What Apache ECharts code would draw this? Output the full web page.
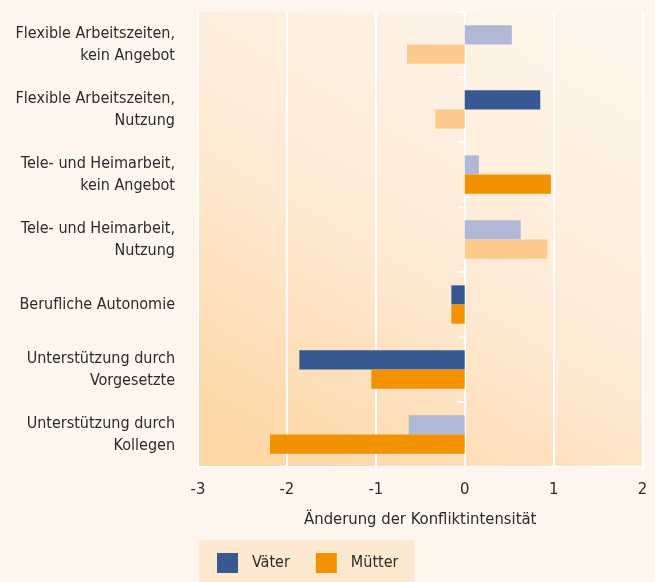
<!DOCTYPE html>
<html>
<head>
<meta charset="utf-8">
<script src="https://cdn.jsdelivr.net/npm/echarts@6/dist/echarts.min.js"></script>
<style>
html,body{margin:0;padding:0;background:#fef5ec;}
#c{width:655px;height:582px;}
</style>
</head>
<body>
<div id="c"></div>
<script>
const categories = [
  'Flexible Arbeitszeiten,\nkein Angebot',
  'Flexible Arbeitszeiten,\nNutzung',
  'Tele- und Heimarbeit,\nkein Angebot',
  'Tele- und Heimarbeit,\nNutzung',
  'Berufliche Autonomie',
  'Unterstützung durch\nVorgesetzte',
  'Unterstützung durch\nKollegen'
];
const vaeter = [0.53, 0.85, 0.16, 0.63, -0.15, -1.86, -0.63];
const muetter = [-0.65, -0.33, 0.97, 0.93, -0.15, -1.05, -2.19];
const vaeterSignificant = [false, true, false, false, true, true, false];
const muetterSignificant = [false, false, true, false, true, true, true];
const xTicks = [-3, -2, -1, 0, 1, 2];

const FONT = '"Liberation Sans Narrow", "DejaVu Sans Condensed", Roboto, sans-serif';
const C = {
  vDark: '#375891', vLight: '#b0b8d6',
  mDark: '#f29200', mLight: '#fbcb8e'
};

const chart = echarts.init(document.getElementById('c'), null, {renderer: 'canvas'});
const mk = (vals, sig, dark, light) => vals.map((v, i) => ({
  value: v, itemStyle: {color: sig[i] ? dark : light}
}));

chart.setOption({
  backgroundColor: '#fef5ec',
  textStyle: {fontFamily: FONT},
  grid: {
    left: 198, right: 12.5, top: 12, bottom: 115,
    show: true, borderWidth: 0,
    backgroundColor: new echarts.graphic.LinearGradient(0.8, 0, 0.2, 1, [
      {offset: 0, color: '#fef5ea'},
      {offset: 0.55, color: '#feead4'},
      {offset: 1, color: '#fdd7a6'}
    ])
  },
  legend: {
    left: 199, top: 540,
    backgroundColor: '#fde8d0',
    padding: [13, 16, 12, 18],
    itemWidth: 21, itemHeight: 20, itemGap: 26,
    icon: 'rect',
    textStyle: {fontFamily: FONT, fontSize: 16, color: '#2b2b2b', padding: [0, 0, 0, 9]},
    data: ['Väter', 'Mütter']
  },
  xAxis: {
    type: 'value', min: xTicks[0], max: xTicks[xTicks.length - 1], interval: 1,
    axisLine: {show: true, lineStyle: {color: '#ffffff', width: 2}},
    axisTick: {show: true, length: 4, lineStyle: {color: '#ffffff', width: 2}},
    axisLabel: {fontFamily: FONT, fontSize: 16.5, color: '#2b2b2b', margin: 14},
    splitLine: {show: true, lineStyle: {color: '#ffffff', width: 2}},
    name: 'Änderung der Konfliktintensität',
    nameLocation: 'middle', nameGap: 44,
    nameTextStyle: {fontFamily: FONT, fontSize: 16.5, color: '#2b2b2b'}
  },
  yAxis: [{
    type: 'category', data: categories, inverse: true,
    axisLine: {show: false, onZero: false},
    axisTick: {show: false},
    axisLabel: {fontFamily: FONT, fontSize: 16, color: '#2b2b2b', lineHeight: 22, margin: 23, align: 'right'}
  }, {
    type: 'category', data: categories, inverse: true, position: 'left',
    axisLine: {show: true, onZero: true, lineStyle: {color: '#ffffff', width: 2}},
    axisTick: {show: true, length: 7, lineStyle: {color: '#ffffff', width: 2}},
    axisLabel: {show: false}
  }],
  series: [{
    name: 'Väter', type: 'bar', color: C.vDark,
    data: mk(vaeter, vaeterSignificant, C.vDark, C.vLight),
    barGap: '0%', barCategoryGap: '41%'
  }, {
    name: 'Mütter', type: 'bar', color: C.mDark,
    data: mk(muetter, muetterSignificant, C.mDark, C.mLight),
    barGap: '0%', barCategoryGap: '41%'
  }]
});
</script>
</body>
</html>
